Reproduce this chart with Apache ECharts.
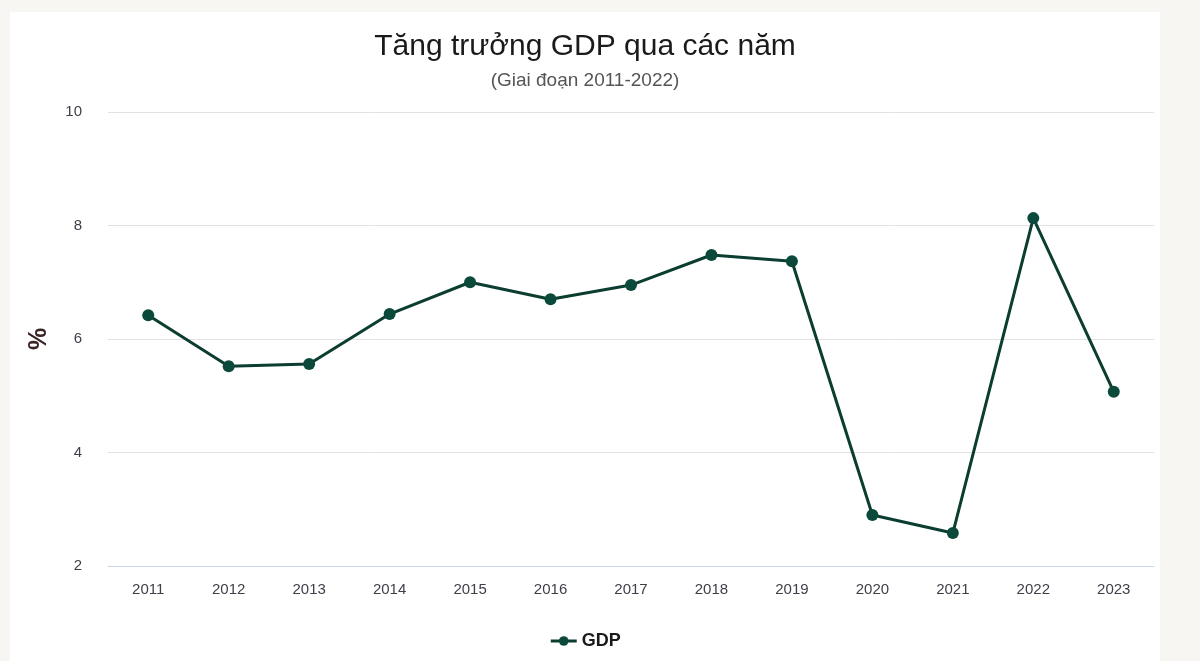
<!DOCTYPE html>
<html><head><meta charset="utf-8">
<script src="https://cdn.jsdelivr.net/npm/echarts@6/dist/echarts.min.js"></script>
<style>
html,body{margin:0;padding:0;background:#f7f6f2;width:1200px;height:661px;overflow:hidden;}
#panel{position:absolute;left:10px;top:12px;width:1150px;height:649px;background:#fff;}
#chart{position:absolute;left:0;top:0;width:1170px;height:661px;}
</style></head>
<body>
<div id="panel"></div>
<div id="chart"></div>
<script>
const categories = ['2011','2012','2013','2014','2015','2016','2017','2018','2019','2020','2021','2022','2023'];
const gdpValues = [6.42, 5.52, 5.56, 6.44, 7.00, 6.70, 6.95, 7.48, 7.37, 2.90, 2.58, 8.13, 5.07];
const seriesName = 'GDP';
const titleText = 'Tăng trưởng GDP qua các năm';
const subtitleText = '(Giai đoạn 2011-2022)';
const yAxisName = '%';

const chart = echarts.init(document.getElementById('chart'), null, {renderer:'canvas'});
const font = '"Liberation Sans", Arial, sans-serif';
chart.setOption({
  backgroundColor: 'transparent',
  animation: false,
  title: {
    text: titleText, subtext: subtitleText, left: 'center', top: 27, itemGap: 9,
    textStyle: {fontFamily: font, fontSize: 30, fontWeight: 'normal', color: '#1a1a1a'},
    subtextStyle: {fontFamily: font, fontSize: 19, color: '#555'}
  },
  legend: {
    data: [seriesName], bottom: 6, left: 'center',
    itemWidth: 26, itemHeight: 12, itemGap: 8,
    lineStyle: {width: 3},
    textStyle: {fontFamily: font, fontSize: 18, fontWeight: 'bold', color: '#1a1a1a'}
  },
  grid: {left: 108, right: 16, top: 112, bottom: 95, containLabel: false},
  xAxis: {
    type: 'category', data: categories, boundaryGap: true,
    axisLine: {lineStyle: {color: '#ccd6eb'}},
    axisTick: {show: false},
    axisLabel: {fontFamily: font, fontSize: 15, color: '#3f3f48', margin: 16}
  },
  yAxis: {
    type: 'value', min: 2, max: 10, interval: 2,
    name: yAxisName, nameLocation: 'middle', nameGap: 56, nameRotate: 90,
    nameTextStyle: {fontFamily: font, fontSize: 25, fontWeight: 'bold', color: '#3a2424'},
    axisLine: {show: false}, axisTick: {show: false},
    axisLabel: {fontFamily: font, fontSize: 15, color: '#3f3f48', margin: 26},
    splitLine: {lineStyle: {color: '#e2e2e2', width: 1}}
  },
  series: [{
    name: seriesName, type: 'line', data: gdpValues,
    symbol: 'circle', symbolSize: 12,
    itemStyle: {color: '#0b4a3a'},
    lineStyle: {color: '#0b3d30', width: 3}
  }]
});
</script>
</body></html>
